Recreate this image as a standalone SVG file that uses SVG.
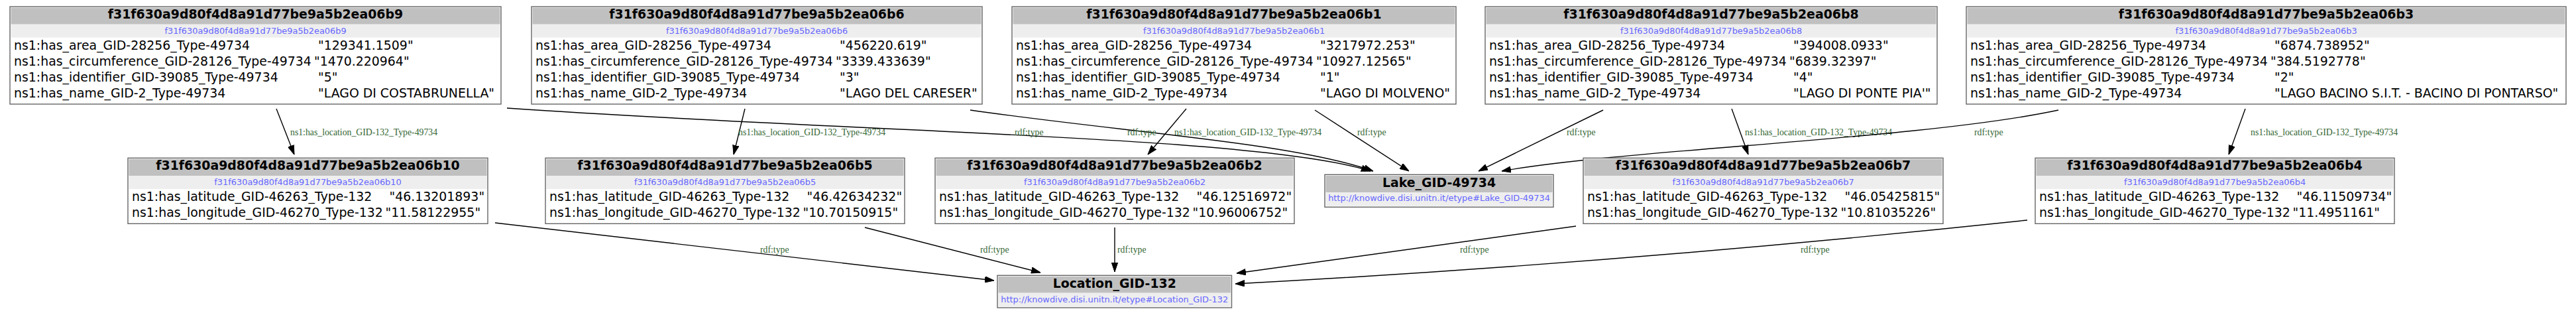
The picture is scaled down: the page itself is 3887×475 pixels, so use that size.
<svg xmlns="http://www.w3.org/2000/svg" width="3887" height="475" viewBox="0 0 3887 475">
<style>
.bg{fill:#ffffff;stroke:#666666;stroke-width:1.4}
.hdr{fill:#c0c0c0}
.sub{fill:#eeeeee}
.title{font-family:"DejaVu Sans",sans-serif;font-size:18.9px;font-weight:bold;text-anchor:middle;fill:#000}
.subt{font-family:"DejaVu Sans",sans-serif;font-size:12.9px;fill:#6666ff;text-anchor:middle}
.r{font-family:"DejaVu Sans",sans-serif;font-size:18.9px;fill:#000}
.el{font-family:"Liberation Serif","Times New Roman",serif;font-size:13.75px;fill:#336633}
.e{fill:none;stroke:#000;stroke-width:1.4;marker-end:url(#ah)}
</style>
<defs>
<marker id="ah" markerUnits="userSpaceOnUse" markerWidth="14" markerHeight="10" viewBox="0 0 14 10" refX="14" refY="5" orient="auto"><path d="M0,0.3 L14,5 L0,9.7 z" fill="#000" stroke="#000" stroke-width="1"/></marker>
</defs>
<rect width="3887" height="475" fill="#ffffff"/>

<g id="edges">
<path class="e" d="M417,164 L444,233"/>
<text class="el" x="438" y="204">ns1:has_location_GID-132_Type-49734</text>
<path class="e" d="M1124,164 L1107,233"/>
<text class="el" x="1114" y="204">ns1:has_location_GID-132_Type-49734</text>
<path class="e" d="M1790,164 L1732,233"/>
<text class="el" x="1772" y="204">ns1:has_location_GID-132_Type-49734</text>
<path class="e" d="M2613,164 L2638,233"/>
<text class="el" x="2633" y="204">ns1:has_location_GID-132_Type-49734</text>
<path class="e" d="M3388,164 L3363,233"/>
<text class="el" x="3396" y="204">ns1:has_location_GID-132_Type-49734</text>

<path class="e" d="M765,163 C1300,200 1900,205 2068,258"/>
<text class="el" x="1531" y="204">rdf:type</text>
<path class="e" d="M1464,166 C1700,200 1950,215 2072,258"/>
<text class="el" x="1701" y="204">rdf:type</text>
<path class="e" d="M1984,166 L2126,258"/>
<text class="el" x="2048" y="204">rdf:type</text>
<path class="e" d="M2419,166 L2231,258"/>
<text class="el" x="2364" y="204">rdf:type</text>
<path class="e" d="M3106,166 C2900,210 2450,225 2266,258"/>
<text class="el" x="2979" y="204">rdf:type</text>

<path class="e" d="M747,336 L1500,423"/>
<text class="el" x="1147" y="381">rdf:type</text>
<path class="e" d="M1305,343 L1570,411"/>
<text class="el" x="1479" y="381">rdf:type</text>
<path class="e" d="M1682,343 L1682,410"/>
<text class="el" x="1686" y="381">rdf:type</text>
<path class="e" d="M2378,341 L1866,412"/>
<text class="el" x="2203" y="381">rdf:type</text>
<path class="e" d="M3059,332 C2700,370 2300,405 1864,428"/>
<text class="el" x="2717" y="381">rdf:type</text>
</g>

<g id="n_b9">
<rect class="bg" x="15" y="10" width="741" height="147"/>
<rect class="hdr" x="16.5" y="11.5" width="738" height="25.2"/>
<rect class="sub" x="16.5" y="36.7" width="738" height="20"/>
<text class="title" x="385.5" y="28">f31f630a9d80f4d8a91d77be9a5b2ea06b9</text>
<text class="subt" x="385.5" y="50.7">f31f630a9d80f4d8a91d77be9a5b2ea06b9</text>
<text class="r" x="21" y="74.7">ns1:has_area_GID-28256_Type-49734</text>
<text class="r" x="480" y="74.7">"129341.1509"</text>
<text class="r" x="21" y="98.7">ns1:has_circumference_GID-28126_Type-49734</text>
<text class="r" x="474" y="98.7">"1470.220964"</text>
<text class="r" x="21" y="122.7">ns1:has_identifier_GID-39085_Type-49734</text>
<text class="r" x="480" y="122.7">"5"</text>
<text class="r" x="21" y="146.7">ns1:has_name_GID-2_Type-49734</text>
<text class="r" x="480" y="146.7">"LAGO DI COSTABRUNELLA"</text>
</g>

<g id="n_b6">
<rect class="bg" x="802" y="10" width="680" height="147"/>
<rect class="hdr" x="803.5" y="11.5" width="677" height="25.2"/>
<rect class="sub" x="803.5" y="36.7" width="677" height="20"/>
<text class="title" x="1142" y="28">f31f630a9d80f4d8a91d77be9a5b2ea06b6</text>
<text class="subt" x="1142" y="50.7">f31f630a9d80f4d8a91d77be9a5b2ea06b6</text>
<text class="r" x="808" y="74.7">ns1:has_area_GID-28256_Type-49734</text>
<text class="r" x="1267" y="74.7">"456220.619"</text>
<text class="r" x="808" y="98.7">ns1:has_circumference_GID-28126_Type-49734</text>
<text class="r" x="1261" y="98.7">"3339.433639"</text>
<text class="r" x="808" y="122.7">ns1:has_identifier_GID-39085_Type-49734</text>
<text class="r" x="1267" y="122.7">"3"</text>
<text class="r" x="808" y="146.7">ns1:has_name_GID-2_Type-49734</text>
<text class="r" x="1267" y="146.7">"LAGO DEL CARESER"</text>
</g>

<g id="n_b1">
<rect class="bg" x="1527" y="10" width="670" height="147"/>
<rect class="hdr" x="1528.5" y="11.5" width="667" height="25.2"/>
<rect class="sub" x="1528.5" y="36.7" width="667" height="20"/>
<text class="title" x="1862" y="28">f31f630a9d80f4d8a91d77be9a5b2ea06b1</text>
<text class="subt" x="1862" y="50.7">f31f630a9d80f4d8a91d77be9a5b2ea06b1</text>
<text class="r" x="1533" y="74.7">ns1:has_area_GID-28256_Type-49734</text>
<text class="r" x="1992" y="74.7">"3217972.253"</text>
<text class="r" x="1533" y="98.7">ns1:has_circumference_GID-28126_Type-49734</text>
<text class="r" x="1986" y="98.7">"10927.12565"</text>
<text class="r" x="1533" y="122.7">ns1:has_identifier_GID-39085_Type-49734</text>
<text class="r" x="1992" y="122.7">"1"</text>
<text class="r" x="1533" y="146.7">ns1:has_name_GID-2_Type-49734</text>
<text class="r" x="1992" y="146.7">"LAGO DI MOLVENO"</text>
</g>

<g id="n_b8">
<rect class="bg" x="2241" y="10" width="682" height="147"/>
<rect class="hdr" x="2242.5" y="11.5" width="679" height="25.2"/>
<rect class="sub" x="2242.5" y="36.7" width="679" height="20"/>
<text class="title" x="2582" y="28">f31f630a9d80f4d8a91d77be9a5b2ea06b8</text>
<text class="subt" x="2582" y="50.7">f31f630a9d80f4d8a91d77be9a5b2ea06b8</text>
<text class="r" x="2247" y="74.7">ns1:has_area_GID-28256_Type-49734</text>
<text class="r" x="2706" y="74.7">"394008.0933"</text>
<text class="r" x="2247" y="98.7">ns1:has_circumference_GID-28126_Type-49734</text>
<text class="r" x="2700" y="98.7">"6839.32397"</text>
<text class="r" x="2247" y="122.7">ns1:has_identifier_GID-39085_Type-49734</text>
<text class="r" x="2706" y="122.7">"4"</text>
<text class="r" x="2247" y="146.7">ns1:has_name_GID-2_Type-49734</text>
<text class="r" x="2706" y="146.7">"LAGO DI PONTE PIA'"</text>
</g>

<g id="n_b3">
<rect class="bg" x="2967" y="10" width="905" height="147"/>
<rect class="hdr" x="2968.5" y="11.5" width="902" height="25.2"/>
<rect class="sub" x="2968.5" y="36.7" width="902" height="20"/>
<text class="title" x="3419.5" y="28">f31f630a9d80f4d8a91d77be9a5b2ea06b3</text>
<text class="subt" x="3419.5" y="50.7">f31f630a9d80f4d8a91d77be9a5b2ea06b3</text>
<text class="r" x="2973" y="74.7">ns1:has_area_GID-28256_Type-49734</text>
<text class="r" x="3432" y="74.7">"6874.738952"</text>
<text class="r" x="2973" y="98.7">ns1:has_circumference_GID-28126_Type-49734</text>
<text class="r" x="3426" y="98.7">"384.5192778"</text>
<text class="r" x="2973" y="122.7">ns1:has_identifier_GID-39085_Type-49734</text>
<text class="r" x="3432" y="122.7">"2"</text>
<text class="r" x="2973" y="146.7">ns1:has_name_GID-2_Type-49734</text>
<text class="r" x="3432" y="146.7">"LAGO BACINO S.I.T. - BACINO DI PONTARSO"</text>
</g>

<g id="n_b10">
<rect class="bg" x="193" y="238.3" width="543" height="99"/>
<rect class="hdr" x="194.5" y="239.8" width="540" height="25.2"/>
<rect class="sub" x="194.5" y="265" width="540" height="20"/>
<text class="title" x="464.5" y="256.3">f31f630a9d80f4d8a91d77be9a5b2ea06b10</text>
<text class="subt" x="464.5" y="279">f31f630a9d80f4d8a91d77be9a5b2ea06b10</text>
<text class="r" x="199" y="303">ns1:has_latitude_GID-46263_Type-132</text>
<text class="r" x="587.5" y="303">"46.13201893"</text>
<text class="r" x="199" y="327">ns1:has_longitude_GID-46270_Type-132</text>
<text class="r" x="581.5" y="327">"11.58122955"</text>
</g>

<g id="n_b5">
<rect class="bg" x="823" y="238.3" width="542" height="99"/>
<rect class="hdr" x="824.5" y="239.8" width="539" height="25.2"/>
<rect class="sub" x="824.5" y="265" width="539" height="20"/>
<text class="title" x="1094" y="256.3">f31f630a9d80f4d8a91d77be9a5b2ea06b5</text>
<text class="subt" x="1094" y="279">f31f630a9d80f4d8a91d77be9a5b2ea06b5</text>
<text class="r" x="829" y="303">ns1:has_latitude_GID-46263_Type-132</text>
<text class="r" x="1217.5" y="303">"46.42634232"</text>
<text class="r" x="829" y="327">ns1:has_longitude_GID-46270_Type-132</text>
<text class="r" x="1211.5" y="327">"10.70150915"</text>
</g>

<g id="n_b2">
<rect class="bg" x="1411" y="238.3" width="542" height="99"/>
<rect class="hdr" x="1412.5" y="239.8" width="539" height="25.2"/>
<rect class="sub" x="1412.5" y="265" width="539" height="20"/>
<text class="title" x="1682" y="256.3">f31f630a9d80f4d8a91d77be9a5b2ea06b2</text>
<text class="subt" x="1682" y="279">f31f630a9d80f4d8a91d77be9a5b2ea06b2</text>
<text class="r" x="1417" y="303">ns1:has_latitude_GID-46263_Type-132</text>
<text class="r" x="1805.5" y="303">"46.12516972"</text>
<text class="r" x="1417" y="327">ns1:has_longitude_GID-46270_Type-132</text>
<text class="r" x="1799.5" y="327">"10.96006752"</text>
</g>

<g id="n_lake">
<rect class="bg" x="1999" y="263.3" width="345" height="49"/>
<rect class="hdr" x="2000.5" y="264.8" width="342" height="25.2"/>
<rect class="sub" x="2000.5" y="290" width="342" height="20.8"/>
<text class="title" x="2171.5" y="281.7">Lake_GID-49734</text>
<text class="subt" x="2171.5" y="303.3">http://knowdive.disi.unitn.it/etype#Lake_GID-49734</text>
</g>

<g id="n_b7">
<rect class="bg" x="2389" y="238.3" width="543" height="99"/>
<rect class="hdr" x="2390.5" y="239.8" width="540" height="25.2"/>
<rect class="sub" x="2390.5" y="265" width="540" height="20"/>
<text class="title" x="2660.5" y="256.3">f31f630a9d80f4d8a91d77be9a5b2ea06b7</text>
<text class="subt" x="2660.5" y="279">f31f630a9d80f4d8a91d77be9a5b2ea06b7</text>
<text class="r" x="2395" y="303">ns1:has_latitude_GID-46263_Type-132</text>
<text class="r" x="2783.5" y="303">"46.05425815"</text>
<text class="r" x="2395" y="327">ns1:has_longitude_GID-46270_Type-132</text>
<text class="r" x="2777.5" y="327">"10.81035226"</text>
</g>

<g id="n_b4">
<rect class="bg" x="3071" y="238.3" width="542" height="99"/>
<rect class="hdr" x="3072.5" y="239.8" width="539" height="25.2"/>
<rect class="sub" x="3072.5" y="265" width="539" height="20"/>
<text class="title" x="3342" y="256.3">f31f630a9d80f4d8a91d77be9a5b2ea06b4</text>
<text class="subt" x="3342" y="279">f31f630a9d80f4d8a91d77be9a5b2ea06b4</text>
<text class="r" x="3077" y="303">ns1:has_latitude_GID-46263_Type-132</text>
<text class="r" x="3465.5" y="303">"46.11509734"</text>
<text class="r" x="3077" y="327">ns1:has_longitude_GID-46270_Type-132</text>
<text class="r" x="3459.5" y="327">"11.4951161"</text>
</g>

<g id="n_location">
<rect class="bg" x="1505" y="415.3" width="353.5" height="48.7"/>
<rect class="hdr" x="1506.5" y="416.8" width="350.5" height="24.9"/>
<rect class="sub" x="1506.5" y="441.7" width="350.5" height="20.8"/>
<text class="title" x="1681.75" y="434">Location_GID-132</text>
<text class="subt" x="1681.75" y="456">http://knowdive.disi.unitn.it/etype#Location_GID-132</text>
</g>
</svg>
